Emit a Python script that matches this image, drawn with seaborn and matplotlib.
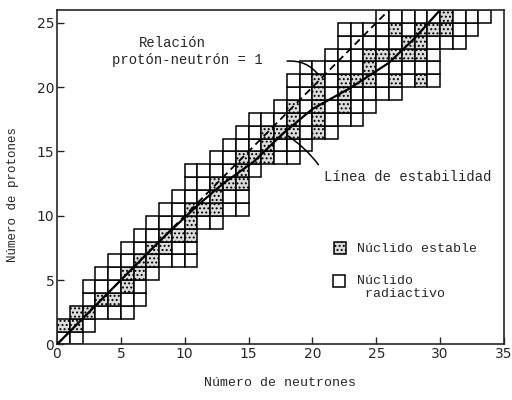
import matplotlib
matplotlib.use("Agg")
import matplotlib.pyplot as plt
from matplotlib.patches import Rectangle
import seaborn as sns
import pandas as pd


# rows of the chart: proton number, first neutron number, end of the row
protons = list(range(26))
n_first = [0, 0, 1, 2, 2, 3, 4, 5, 6, 7, 8, 9, 10, 10, 12, 13, 14, 15, 17, 18, 18, 19, 21, 22, 22, 25]
n_end = [2, 3, 6, 7, 7, 8, 11, 11, 11, 13, 15, 15, 15, 16, 19, 20, 22, 24, 25, 27, 30, 30, 30, 32, 33, 34]

# stable nuclides (shaded squares)
stable_z = [1, 1, 2, 2, 3, 3, 4, 5, 5, 6, 6, 7, 7, 8, 8, 8, 9, 10, 10, 10, 11, 12, 12, 12, 13,
            14, 14, 14, 15, 16, 16, 16, 16, 17, 17, 18, 18, 18, 19, 19, 20, 20, 20, 20, 20, 20,
            21, 22, 22, 22, 22, 22, 23, 23, 24, 24, 24, 24, 25]
stable_n = [0, 1, 1, 2, 3, 4, 5, 5, 6, 6, 7, 7, 8, 8, 9, 10, 10, 10, 11, 12, 12, 12, 13, 14, 14,
            14, 15, 16, 16, 16, 17, 18, 20, 18, 20, 18, 20, 22, 20, 22, 20, 22, 23, 24, 26, 28,
            24, 24, 25, 26, 27, 28, 27, 28, 26, 28, 29, 30, 30]

# proton/neutron = 1 line and the stability line
ratio_n = [0, 26]
ratio_z = [0, 26]
stab_n = [0, 4, 8, 11, 13, 15.4, 17.7, 20, 22.9, 26, 28, 30]
stab_z = [0, 4, 8, 10.8, 12.5, 14.2, 16.4, 18.3, 19.9, 21.9, 23.8, 26.0]

x_ticks = [0, 5, 10, 15, 20, 25, 30, 35]
y_ticks = [0, 5, 10, 15, 20, 25]

MONO = "Liberation Mono"


def main():
    sns.set_style("ticks")
    plt.rcParams["font.family"] = ["DejaVu Sans"]
    plt.rcParams["hatch.linewidth"] = 0.9

    fig = plt.figure(figsize=(5.12, 4.0), dpi=100)
    ax = fig.add_axes([0.1113, 0.139, 0.873, 0.836])

    stable = set(zip(stable_z, stable_n))
    for z, a, b in zip(protons, n_first, n_end):
        for n in range(a, b):
            if (z, n) in stable:
                ax.add_patch(Rectangle((n, z), 1, 1, facecolor="#dcdcdc", edgecolor="black",
                                       lw=1.1, hatch="...."))
            else:
                ax.add_patch(Rectangle((n, z), 1, 1, facecolor="white", edgecolor="black", lw=1.1))

    df_ratio = pd.DataFrame({"n": ratio_n, "z": ratio_z})
    df_stab = pd.DataFrame({"n": stab_n, "z": stab_z})
    sns.lineplot(data=df_ratio, x="n", y="z", ax=ax, color="black", lw=1.3,
                 linestyle=(0, (4, 2.5)), zorder=3)
    sns.lineplot(data=df_stab, x="n", y="z", ax=ax, color="black", lw=1.6, zorder=3)

    # annotations
    ax.text(9.0, 23.45, "Relación", family=MONO, fontsize=10, ha="center", va="center")
    ax.text(10.2, 22.1, "protón-neutrón = 1", family=MONO, fontsize=10, ha="center", va="center")
    ax.annotate("", xy=(20.6, 20.8), xytext=(17.8, 22.0),
                arrowprops=dict(arrowstyle="-", color="black", lw=1.1,
                                connectionstyle="arc3,rad=-0.3"))
    ax.text(20.9, 13.0, "Línea de estabilidad", family=MONO, fontsize=10, ha="left", va="center")
    ax.annotate("", xy=(17.8, 16.4), xytext=(20.6, 13.8),
                arrowprops=dict(arrowstyle="-", color="black", lw=1.1,
                                connectionstyle="arc3,rad=0.1"))

    # key
    ax.add_patch(Rectangle((0.620, 0.270), 0.027, 0.036, transform=ax.transAxes,
                           facecolor="#dcdcdc", edgecolor="black", lw=1.1, hatch="...."))
    ax.text(0.671, 0.285, "Núclido estable", transform=ax.transAxes, family=MONO,
            fontsize=9.5, ha="left", va="center")
    ax.add_patch(Rectangle((0.617, 0.171), 0.027, 0.036, transform=ax.transAxes,
                           facecolor="white", edgecolor="black", lw=1.1))
    ax.text(0.671, 0.17, "Núclido\n radiactivo", transform=ax.transAxes, family=MONO,
            fontsize=9.5, ha="left", va="center", linespacing=1.1)

    ax.set_xlim(0, 35)
    ax.set_ylim(0, 26)
    ax.set_xticks(x_ticks)
    ax.set_yticks(y_ticks)
    ax.tick_params(direction="in", length=5, width=1, labelsize=10, pad=2)
    for s in ax.spines.values():
        s.set_linewidth(1.2)

    ax.set_xlabel("Número de neutrones", family=MONO, fontsize=9.5)
    ax.set_ylabel("Número de protones", family=MONO, fontsize=9)
    ax.xaxis.set_label_coords(0.5, -0.098)
    ax.yaxis.set_label_coords(-0.085, 0.447)

    fig.savefig("out.png", dpi=100)


if __name__ == "__main__":
    main()
